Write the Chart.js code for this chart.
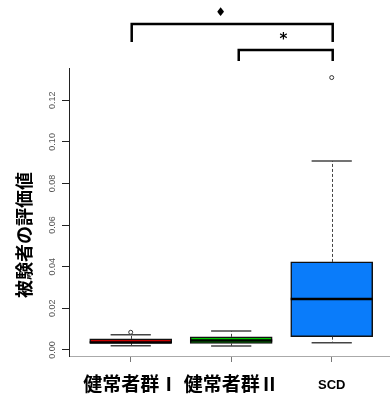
<!DOCTYPE html>
<html lang="ja">
<head>
<meta charset="utf-8">
<script src="https://cdn.jsdelivr.net/npm/chart.js@4.4.1/dist/chart.umd.min.js"></script>
<style>
  html, body { margin: 0; padding: 0; background: #fff; }
</style>
</head>
<body>
<canvas id="boxChart" width="390" height="398"></canvas>
<script>
// 箱ひげ図のデータ
const categories = ['健常者群Ⅰ', '健常者群Ⅱ', 'SCD'];
const whiskerLow = [0.0020, 0.0019, 0.0035];
const q1 = [0.0033, 0.0032, 0.0064];
const medians = [0.0036, 0.0046, 0.0245];
const q3 = [0.0053, 0.0063, 0.0423];
const whiskerHigh = [0.0073, 0.0091, 0.0908];
const outliers = [[0.0085], [], [0.1309]];
const yTicks = [0, 0.02, 0.04, 0.06, 0.08, 0.10, 0.12];
const yTitle = '被験者の評価値';
const boxColors = ['#c80000', '#00c800', '#0a7cfa'];

// 有意差の表示
const sigFrom = [1, 2.065];
const sigTo = [3, 3];
const sigMarks = ['♦', '*'];

const BOX_PX = 82;

const boxData = categories.map((c, i) => ({ x: i + 1, y: [q1[i], q3[i]] }));
const outlierData = [];
outliers.forEach((list, i) => list.forEach(v => outlierData.push({ x: i + 1, y: v })));

function line(ctx, x1, y1, x2, y2) {
    ctx.beginPath();
    ctx.moveTo(x1, y1);
    ctx.lineTo(x2, y2);
    ctx.stroke();
}

const boxExtras = {
    id: 'boxExtras',
    afterDatasetsDraw(chart) {
        const ctx = chart.ctx;
        const xs = chart.scales.x;
        const ys = chart.scales.y;
        ctx.save();
        categories.forEach((c, i) => {
            const x = Math.round(xs.getPixelForValue(i + 1)) + 0.5;
            const capL = xs.getPixelForValue(i + 1 - 0.2);
            const capR = xs.getPixelForValue(i + 1 + 0.2);
            // ひげ（破線）
            ctx.strokeStyle = '#444';
            ctx.lineWidth = 1;
            ctx.setLineDash([3, 2]);
            line(ctx, x, ys.getPixelForValue(q3[i]), x, ys.getPixelForValue(whiskerHigh[i]));
            line(ctx, x, ys.getPixelForValue(q1[i]), x, ys.getPixelForValue(whiskerLow[i]));
            ctx.setLineDash([]);
            // キャップ
            ctx.strokeStyle = '#444';
            ctx.lineWidth = 1.5;
            line(ctx, capL, ys.getPixelForValue(whiskerHigh[i]), capR, ys.getPixelForValue(whiskerHigh[i]));
            line(ctx, capL, ys.getPixelForValue(whiskerLow[i]), capR, ys.getPixelForValue(whiskerLow[i]));
            // 中央値
            ctx.strokeStyle = '#000';
            ctx.lineWidth = 2.5;
            const xm = xs.getPixelForValue(i + 1);
            line(ctx, xm - BOX_PX / 2, ys.getPixelForValue(medians[i]), xm + BOX_PX / 2, ys.getPixelForValue(medians[i]));
        });
        ctx.restore();
    },
    afterDraw(chart) {
        const ctx = chart.ctx;
        const xs = chart.scales.x;
        const ys = chart.scales.y;
        ctx.save();
        // y軸の目盛ラベル（縦書き）
        ctx.fillStyle = '#555';
        ctx.font = '9px "Liberation Sans", Arial, sans-serif';
        ctx.textAlign = 'center';
        ctx.textBaseline = 'middle';
        ys.ticks.forEach(t => {
            ctx.save();
            ctx.translate(53, ys.getPixelForValue(t.value));
            ctx.rotate(-Math.PI / 2);
            ctx.fillText(t.value.toFixed(2), 0, 0);
            ctx.restore();
        });
        // y軸タイトル
        ctx.save();
        ctx.fillStyle = '#000';
        ctx.font = 'bold 18px "Noto Sans CJK JP", sans-serif';
        ctx.translate(24, 235);
        ctx.rotate(-Math.PI / 2);
        ctx.fillText(yTitle, 0, 0);
        ctx.restore();
        // 有意差のブラケット
        const rows = [[24, 42], [50, 61]];
        const markPos = [1.895, 2.52];
        const markY = [13, 40];
        ctx.strokeStyle = '#000';
        ctx.lineWidth = 2.5;
        sigFrom.forEach((f, k) => {
            const x1 = xs.getPixelForValue(f) + 1;
            const x2 = xs.getPixelForValue(sigTo[k]) + 1;
            const [yt, yb] = rows[k];
            ctx.beginPath();
            ctx.moveTo(x1, yb);
            ctx.lineTo(x1, yt);
            ctx.lineTo(x2, yt);
            ctx.lineTo(x2, yb);
            ctx.stroke();
            ctx.fillStyle = '#000';
            ctx.font = k === 0 ? '12px "DejaVu Sans", sans-serif' : 'bold 15px "DejaVu Sans", sans-serif';
            ctx.fillText(sigMarks[k], xs.getPixelForValue(markPos[k]), markY[k]);
        });
        ctx.restore();
    }
};

const chart = new Chart(document.getElementById('boxChart'), {
    type: 'bar',
    data: {
        datasets: [{
            data: boxData,
            backgroundColor: boxColors,
            borderColor: '#111',
            borderWidth: 1.5,
            borderSkipped: false,
            barThickness: BOX_PX
        }, {
            type: 'scatter',
            data: outlierData,
            pointStyle: 'circle',
            pointRadius: 2,
            pointBorderWidth: 1,
            pointBorderColor: '#333',
            pointBackgroundColor: '#fff'
        }]
    },
    options: {
        responsive: false,
        animation: false,
        devicePixelRatio: 1,
        layout: { autoPadding: false, padding: { top: 68, right: 0, left: 0, bottom: 0 } },
        plugins: {
            legend: { display: false },
            tooltip: { enabled: false }
        },
        scales: {
            x: {
                type: 'linear',
                min: 0.386,
                max: 3.58,
                offset: false,
                afterBuildTicks: s => { s.ticks = categories.map((c, i) => ({ value: i + 1 })); },
                afterFit: s => { s.height = 42; },
                grid: { offset: false, drawOnChartArea: false, drawTicks: true, tickLength: 6, color: '#777' },
                border: { display: true, color: '#aaa', width: 1 },
                ticks: {
                    autoSkip: false,
                    maxRotation: 0,
                    minRotation: 0,
                    padding: 10,
                    color: '#000',
                    font: ctx => ctx.index === 2
                        ? { family: '"Liberation Sans", Arial, sans-serif', size: 13, weight: 'bold', lineHeight: 2 }
                        : { family: '"Noto Sans CJK JP", sans-serif', size: 19, weight: 'bold', lineHeight: 1.2 },
                    callback: (v, i) => categories[i]
                }
            },
            y: {
                type: 'linear',
                min: -0.0029,
                max: 0.1355,
                afterBuildTicks: s => { s.ticks = yTicks.map(v => ({ value: v })); },
                afterFit: s => { s.width = 69; },
                grid: { drawOnChartArea: false, drawTicks: true, tickLength: 7, color: '#222' },
                border: { display: true, color: '#222', width: 1 },
                ticks: { display: false }
            }
        }
    },
    plugins: [boxExtras]
});
</script>
</body>
</html>
